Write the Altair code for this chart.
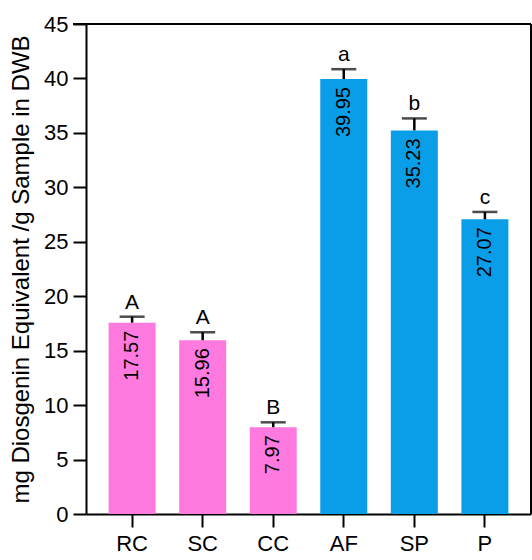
import altair as alt
import pandas as pd

# Total saponin content per sample (mg diosgenin equivalent / g, dry weight basis)
samples = ["RC", "SC", "CC", "AF", "SP", "P"]
values = [17.57, 15.96, 7.97, 39.95, 35.23, 27.07]
errors = [0.55, 0.73, 0.45, 0.90, 1.10, 0.67]
letters = ["A", "A", "B", "a", "b", "c"]
groups = ["pink", "pink", "pink", "blue", "blue", "blue"]
y_ticks = [0, 5, 10, 15, 20, 25, 30, 35, 40, 45]

df = pd.DataFrame({
    "sample": samples,
    "value": values,
    "err": errors,
    "top": [v + e for v, e in zip(values, errors)],
    "letter": letters,
    "group": groups,
    "label": [f"{v:.2f}" for v in values],
})

W, H = 445, 490
FONT = "Liberation Sans"

x = alt.X(
    "sample:N", sort=samples,
    scale=alt.Scale(paddingInner=0.333, paddingOuter=0.32),
    axis=alt.Axis(title=None, labelAngle=0, labelFontSize=22, labelFont=FONT,
                  labelColor="black", tickSize=13, tickWidth=2, tickColor="black",
                  domainColor="black", domainWidth=2, labelPadding=6, grid=False),
)
y_scale = alt.Scale(domain=[0, 45], nice=False, zero=True)

base = alt.Chart(df)

bars = base.mark_bar(size=47).encode(
    x=x,
    y=alt.Y("value:Q", scale=y_scale,
            axis=alt.Axis(values=y_ticks, title="mg Diosgenin Equivalent /g Sample in DWB",
                          titleFontSize=24, titleFont=FONT, titleFontWeight="normal",
                          titleColor="black", titlePadding=10,
                          labelFontSize=22, labelFont=FONT, labelColor="black",
                          tickSize=13, tickWidth=2, tickColor="black",
                          domainColor="black", domainWidth=2, labelPadding=5, grid=False)),
    color=alt.Color("group:N", scale=alt.Scale(domain=["pink", "blue"],
                                               range=["#FF7ADF", "#0A9EE8"]), legend=None),
)

stems = base.mark_rule(color="black", strokeWidth=2.5).encode(
    x=alt.X("sample:N", sort=samples),
    y=alt.Y("value:Q", scale=y_scale),
    y2="top:Q",
)

caps = base.mark_tick(color="black", size=25, thickness=2.5, orient="horizontal").encode(
    x=alt.X("sample:N", sort=samples),
    y=alt.Y("top:Q", scale=y_scale),
)

letter_text = base.mark_text(fontSize=21, font=FONT, color="black",
                             baseline="bottom", dy=-4).encode(
    x=alt.X("sample:N", sort=samples),
    y=alt.Y("top:Q", scale=y_scale),
    text="letter:N",
)

value_text = base.mark_text(fontSize=20, font=FONT, color="black", angle=270,
                            align="right", baseline="middle", dx=-8).encode(
    x=alt.X("sample:N", sort=samples),
    y=alt.Y("value:Q", scale=y_scale),
    text="label:N",
)

# top and right frame lines
frame_top = alt.Chart(pd.DataFrame({"a": [0]})).mark_rule(color="black", strokeWidth=2).encode(
    x=alt.value(-13), x2=alt.value(W), y=alt.value(0)
)
frame_right = alt.Chart(pd.DataFrame({"a": [0]})).mark_rule(color="black", strokeWidth=2).encode(
    x=alt.value(W), y=alt.value(0), y2=alt.value(H)
)

chart = alt.layer(bars, stems, caps, letter_text, value_text, frame_top, frame_right).properties(
    width=W, height=H,
    autosize=alt.AutoSizeParams(type="none"),
    padding={"left": 86, "top": 24, "right": 1, "bottom": 46},
    background="white",
).configure_view(stroke=None)

chart.save("out.html", embed_options={"renderer": "svg", "actions": False})
